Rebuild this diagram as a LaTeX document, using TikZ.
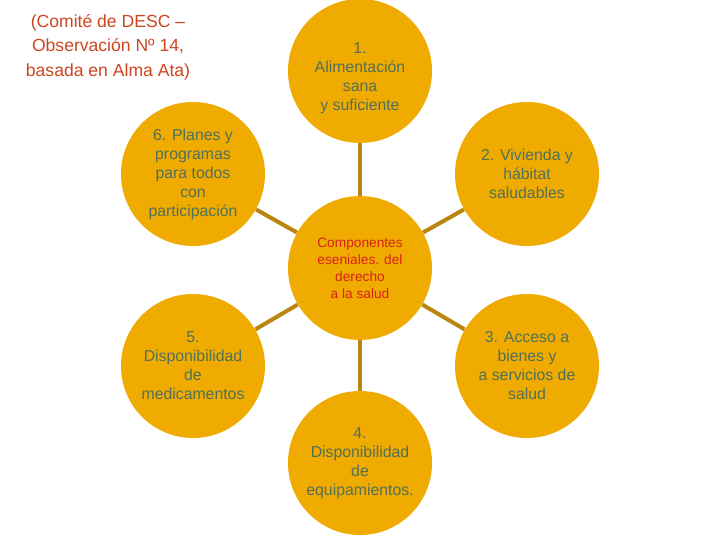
\documentclass[tikz,border=0pt]{standalone}
\usepackage{fontspec}
\setmainfont{Liberation Sans}
\definecolor{sungold}{RGB}{240,171,0}
\definecolor{spokegold}{RGB}{185,135,15}
\definecolor{petalgreen}{RGB}{80,112,90}
\definecolor{hubred}{RGB}{215,35,25}
\definecolor{notered}{RGB}{205,70,30}
\usetikzlibrary{positioning}

\begin{document}
\begin{tikzpicture}[
  petal/.style={circle, fill=sungold, minimum size=2.88cm, inner sep=0pt,
    align=center, text=petalgreen, font=\fontsize{9}{10.8}\selectfont},
  hub/.style={petal, text=hubred, font=\fontsize{7.8}{9.6}\selectfont},
  spoke/.style={line width=2.3pt, spokegold},
  note/.style={align=center, text=notered, font=\fontsize{10}{13.9}\selectfont},
]

\path[fill=white] (0,0) rectangle (14.4,10.8);
\useasboundingbox (0,0) rectangle (14.4,10.8);

\node[note] (src) at (2.16,9.86) {(Comité de DESC --\\Observación Nº 14,\\basada en Alma Ata)};

\node[hub] (core) at (7.2,5.44) {Componentes\\eseniales. del\\derecho\\a la salud};

\node[petal] (c1) at (7.2,9.38) {\rule{0pt}{0.5cm}1.\\Alimentación\\sana\\y suficiente};
\node[petal] (c2) at (10.54,7.32) {2. Vivienda y\\hábitat\\saludables};
\node[petal] (c3) at (10.54,3.48) {3. Acceso a\\bienes y\\a servicios de\\salud};
\node[petal] (c4) at (7.2,1.54) {4.\\Disponibilidad\\de\\equipamientos.};
\node[petal] (c5) at (3.86,3.48) {5.\\Disponibilidad\\de\\medicamentos};
\node[petal] (c6) at (3.86,7.32) {6. Planes y\\programas\\para todos\\con\\participación};

% Spokes
\foreach \c in {c1,c2,c3,c4,c5,c6} {
  \draw[spoke] (core) -- (\c);
}

\end{tikzpicture}
\end{document}
